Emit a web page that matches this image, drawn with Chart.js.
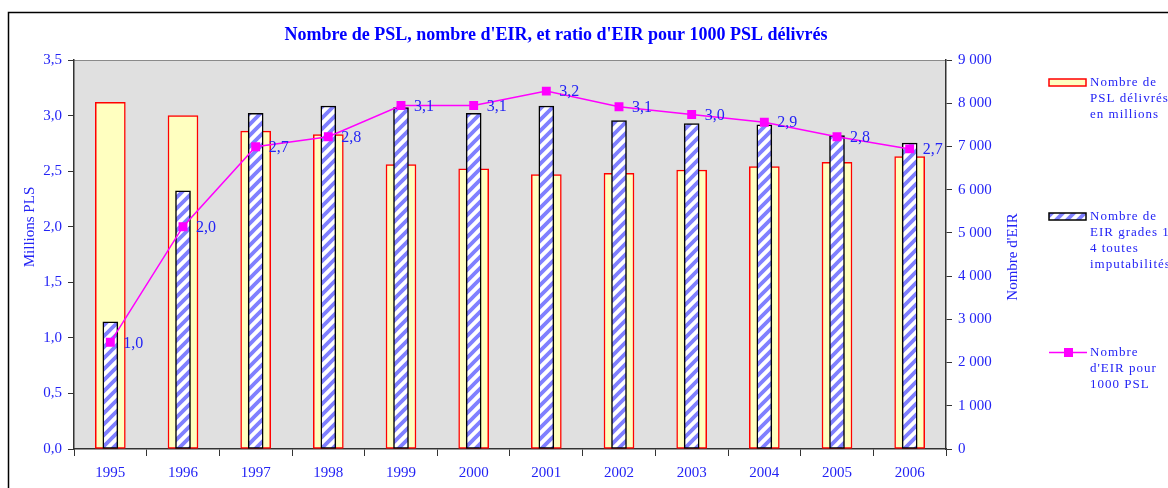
<!DOCTYPE html>
<html>
<head>
<meta charset="utf-8">
<script src="https://cdn.jsdelivr.net/npm/chart.js@4.4.1/dist/chart.umd.min.js"></script>
<style>
  html, body { margin: 0; padding: 0; background: #ffffff; }
  #wrap { width: 1168px; height: 488px; position: relative; }
</style>
</head>
<body>
<div id="wrap"><canvas id="c" width="1168" height="488"></canvas></div>
<script>
// ---- Data ----
const years = ['1995','1996','1997','1998','1999','2000','2001','2002','2003','2004','2005','2006'];
const pslMillions = [3.12, 3.00, 2.86, 2.83, 2.56, 2.52, 2.47, 2.48, 2.51, 2.54, 2.58, 2.63];
const eirCount = [2945, 5975, 7765, 7935, 7900, 7765, 7935, 7600, 7530, 7500, 7250, 7080];
const eirPer1000 = [0.96, 2.00, 2.72, 2.81, 3.09, 3.09, 3.22, 3.08, 3.01, 2.94, 2.81, 2.70];
const leftTicks = [0, 0.5, 1, 1.5, 2, 2.5, 3, 3.5];
const rightTicks = [0, 1000, 2000, 3000, 4000, 5000, 6000, 7000, 8000, 9000];

const titleText = "Nombre de PSL, nombre d'EIR, et ratio d'EIR pour 1000 PSL délivrés";
const leftTitle = 'Millions PLS';
const rightTitle = "Nombre d'EIR";
const legendPSL = ['Nombre de', 'PSL délivrés', 'en millions'];
const legendEIR = ['Nombre de', 'EIR grades 1 à', '4 toutes', 'imputabilités'];
const legendRatio = ['Nombre', "d'EIR pour", '1000 PSL'];

// ---- Styles ----
const BLUE = '#2323f5';
const SERIF = "'Liberation Serif', 'DejaVu Serif', serif";

function stripePattern() {
  const n = 11;
  const p = document.createElement('canvas');
  p.width = n; p.height = n;
  const c = p.getContext('2d');
  c.fillStyle = '#ffffff';
  c.fillRect(0, 0, n, n);
  c.strokeStyle = '#8080ff';
  c.lineWidth = 3.8;
  c.beginPath();
  c.moveTo(-n/2, n/2); c.lineTo(n/2, -n/2);
  c.moveTo(0, n); c.lineTo(n, 0);
  c.moveTo(n/2, n*1.5); c.lineTo(n*1.5, n/2);
  c.stroke();
  return document.getElementById('c').getContext('2d').createPattern(p, 'repeat');
}
const stripes = stripePattern();

function fmtComma(v, d) { return v.toFixed(d).replace('.', ','); }
function fmtThousands(v) { return String(v).replace(/\B(?=(\d{3})+(?!\d))/g, ' '); }

const decor = {
  id: 'decor',
  beforeDraw(chart) {
    const ctx = chart.ctx, a = chart.chartArea;
    ctx.save();
    ctx.fillStyle = '#ffffff';
    ctx.fillRect(0, 0, chart.width, chart.height);
    ctx.fillStyle = '#e0e0e0';
    ctx.fillRect(a.left, a.top, a.right - a.left, a.bottom - a.top);
    ctx.strokeStyle = '#8a8a8a';
    ctx.lineWidth = 1;
    ctx.beginPath();
    ctx.moveTo(a.left, a.top + 0.5); ctx.lineTo(a.right, a.top + 0.5);
    ctx.stroke();
    ctx.restore();
  },
  afterDatasetsDraw(chart) {
    const ctx = chart.ctx;
    const meta = chart.getDatasetMeta(0);
    ctx.save();
    ctx.font = '16px ' + SERIF;
    ctx.fillStyle = BLUE;
    ctx.textAlign = 'left';
    ctx.textBaseline = 'middle';
    meta.data.forEach((pt, i) => {
      ctx.fillText(fmtComma(eirPer1000[i], 1), pt.x + 13, pt.y + 1);
    });
    ctx.restore();
  },
  afterDraw(chart) {
    const ctx = chart.ctx;
    ctx.save();
    // frame
    ctx.strokeStyle = '#000000';
    ctx.lineWidth = 1.5;
    ctx.beginPath();
    ctx.moveTo(8.5, chart.height + 5);
    ctx.lineTo(8.5, 12.5);
    ctx.lineTo(chart.width + 5, 12.5);
    ctx.stroke();
    // title
    ctx.fillStyle = '#0000ff';
    ctx.font = 'bold 18px ' + SERIF;
    ctx.textAlign = 'center';
    ctx.textBaseline = 'middle';
    ctx.fillText(titleText, 556, 35);
    // axis titles
    ctx.fillStyle = BLUE;
    ctx.font = '15px ' + SERIF;
    ctx.save();
    ctx.translate(30, 227);
    ctx.rotate(-Math.PI / 2);
    ctx.fillText(leftTitle, 0, 0);
    ctx.restore();
    ctx.save();
    ctx.translate(1013, 257);
    ctx.rotate(-Math.PI / 2);
    ctx.fillText(rightTitle, 0, 0);
    ctx.restore();
    // legend
    ctx.font = '13px ' + SERIF;
    ctx.textAlign = 'left';
    ctx.textBaseline = 'middle';
    try { ctx.letterSpacing = '1px'; } catch (e) {}
    function lines(arr, x, y) {
      arr.forEach((t, i) => ctx.fillText(t, x, y + i * 16));
    }
    ctx.fillStyle = '#ffffc0';
    ctx.fillRect(1049, 79, 37, 7);
    ctx.strokeStyle = '#ff0000';
    ctx.lineWidth = 1.5;
    ctx.strokeRect(1049, 79, 37, 7);
    ctx.fillStyle = BLUE;
    lines(legendPSL, 1090, 83);
    ctx.fillStyle = stripes;
    ctx.fillRect(1049, 213, 37, 7);
    ctx.strokeStyle = '#000000';
    ctx.strokeRect(1049, 213, 37, 7);
    ctx.fillStyle = BLUE;
    lines(legendEIR, 1090, 217);
    ctx.strokeStyle = '#ff00ff';
    ctx.lineWidth = 1.5;
    ctx.beginPath();
    ctx.moveTo(1049, 352.5); ctx.lineTo(1087, 352.5);
    ctx.stroke();
    ctx.fillStyle = '#ff00ff';
    ctx.fillRect(1064, 348, 9, 9);
    ctx.fillStyle = BLUE;
    lines(legendRatio, 1090, 353);
    ctx.restore();
  }
};

new Chart(document.getElementById('c'), {
  type: 'bar',
  data: {
    labels: years,
    datasets: [
      {
        type: 'line',
        label: legendRatio.join(' '),
        data: eirPer1000,
        yAxisID: 'y',
        borderColor: '#ff00ff',
        backgroundColor: '#ff00ff',
        borderWidth: 1.5,
        tension: 0,
        pointStyle: 'rect',
        pointRadius: 6.3,
        pointBorderWidth: 0,
        pointBackgroundColor: '#ff00ff',
        order: 1
      },
      {
        label: legendEIR.join(' '),
        data: eirCount,
        yAxisID: 'y1',
        backgroundColor: stripes,
        borderColor: '#000000',
        borderWidth: 1.5,
        borderSkipped: false,
        barThickness: 15,
        grouped: false,
        order: 2
      },
      {
        label: legendPSL.join(' '),
        data: pslMillions,
        yAxisID: 'y',
        backgroundColor: '#ffffc0',
        borderColor: '#ff0000',
        borderWidth: 1.5,
        borderSkipped: false,
        barThickness: 30,
        grouped: false,
        order: 3
      }
    ]
  },
  options: {
    responsive: false,
    animation: false,
    devicePixelRatio: 1,
    layout: { padding: { top: 60, left: 0, right: 0, bottom: 0 } },
    plugins: {
      legend: { display: false },
      tooltip: { enabled: false },
      title: { display: false }
    },
    scales: {
      x: {
        offset: true,
        grid: { display: true, drawOnChartArea: false, drawTicks: true, tickLength: 7, color: '#333333', offset: true },
        border: { display: true, color: '#333333', width: 1.5 },
        ticks: { color: BLUE, font: { family: SERIF, size: 15 }, padding: 8, maxRotation: 0 },
        afterFit(s) { s.height = 39; }
      },
      y: {
        position: 'left',
        min: 0, max: 3.5,
        afterBuildTicks(s) { s.ticks = leftTicks.map(v => ({ value: v })); },
        grid: { display: true, drawOnChartArea: false, drawTicks: true, tickLength: 6, color: '#333333' },
        border: { display: true, color: '#333333', width: 1.5 },
        ticks: { color: BLUE, font: { family: SERIF, size: 15 }, padding: 6, callback: v => fmtComma(v, 1) },
        afterFit(s) { s.width = 74; }
      },
      y1: {
        position: 'right',
        min: 0, max: 9000,
        afterBuildTicks(s) { s.ticks = rightTicks.map(v => ({ value: v })); },
        grid: { display: true, drawOnChartArea: false, drawTicks: true, tickLength: 6, color: '#333333' },
        border: { display: true, color: '#333333', width: 1.5 },
        ticks: { color: BLUE, font: { family: SERIF, size: 15 }, padding: 6, callback: v => fmtThousands(v) },
        afterFit(s) { s.width = 222; }
      }
    }
  },
  plugins: [decor]
});
</script>
</body>
</html>
